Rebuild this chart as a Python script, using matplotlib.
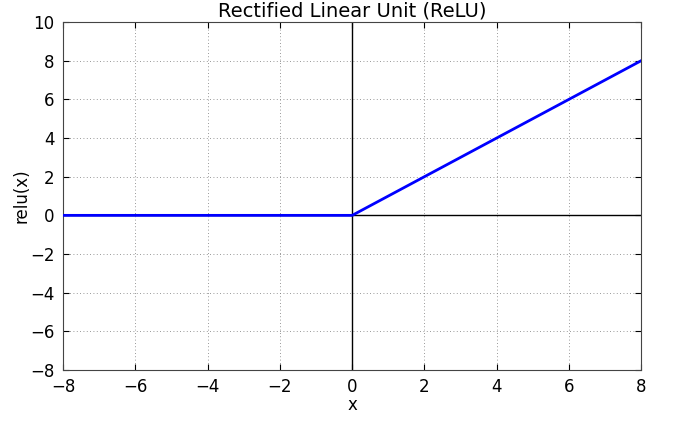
import matplotlib
matplotlib.use('Agg')
import matplotlib.pyplot as plt

x = [-8, 0, 8]
y = [0, 0, 8]
xticks = [-8, -6, -4, -2, 0, 2, 4, 6, 8]
yticks = [-8, -6, -4, -2, 0, 2, 4, 6, 8, 10]

fig = plt.figure(figsize=(6.74, 4.22), dpi=100)
ax = fig.add_axes([0.0935, 0.123, 0.858, 0.825])
ax.plot(x, y, color='#0000ff', lw=2, zorder=3)
ax.axhline(0, color='black', lw=1, zorder=2)
ax.axvline(0, color='black', lw=1, zorder=2)
ax.set_xlim(-8, 8)
ax.set_ylim(-8, 10)
ax.set_xticks(xticks)
ax.set_yticks(yticks)
ax.grid(True, linestyle=(0, (1, 3)), color='#777777', lw=0.6)
ax.tick_params(direction='in', top=True, right=True, labelsize=12, length=4, pad=6)
for s in ax.spines.values():
    s.set_color('#444444')
ax.set_xlabel('x', fontsize=12, labelpad=0)
ax.set_ylabel('relu(x)', fontsize=12, labelpad=0)
ax.set_title('Rectified Linear Unit (ReLU)', fontsize=14, pad=4)
fig.savefig('out.png', dpi=100)
